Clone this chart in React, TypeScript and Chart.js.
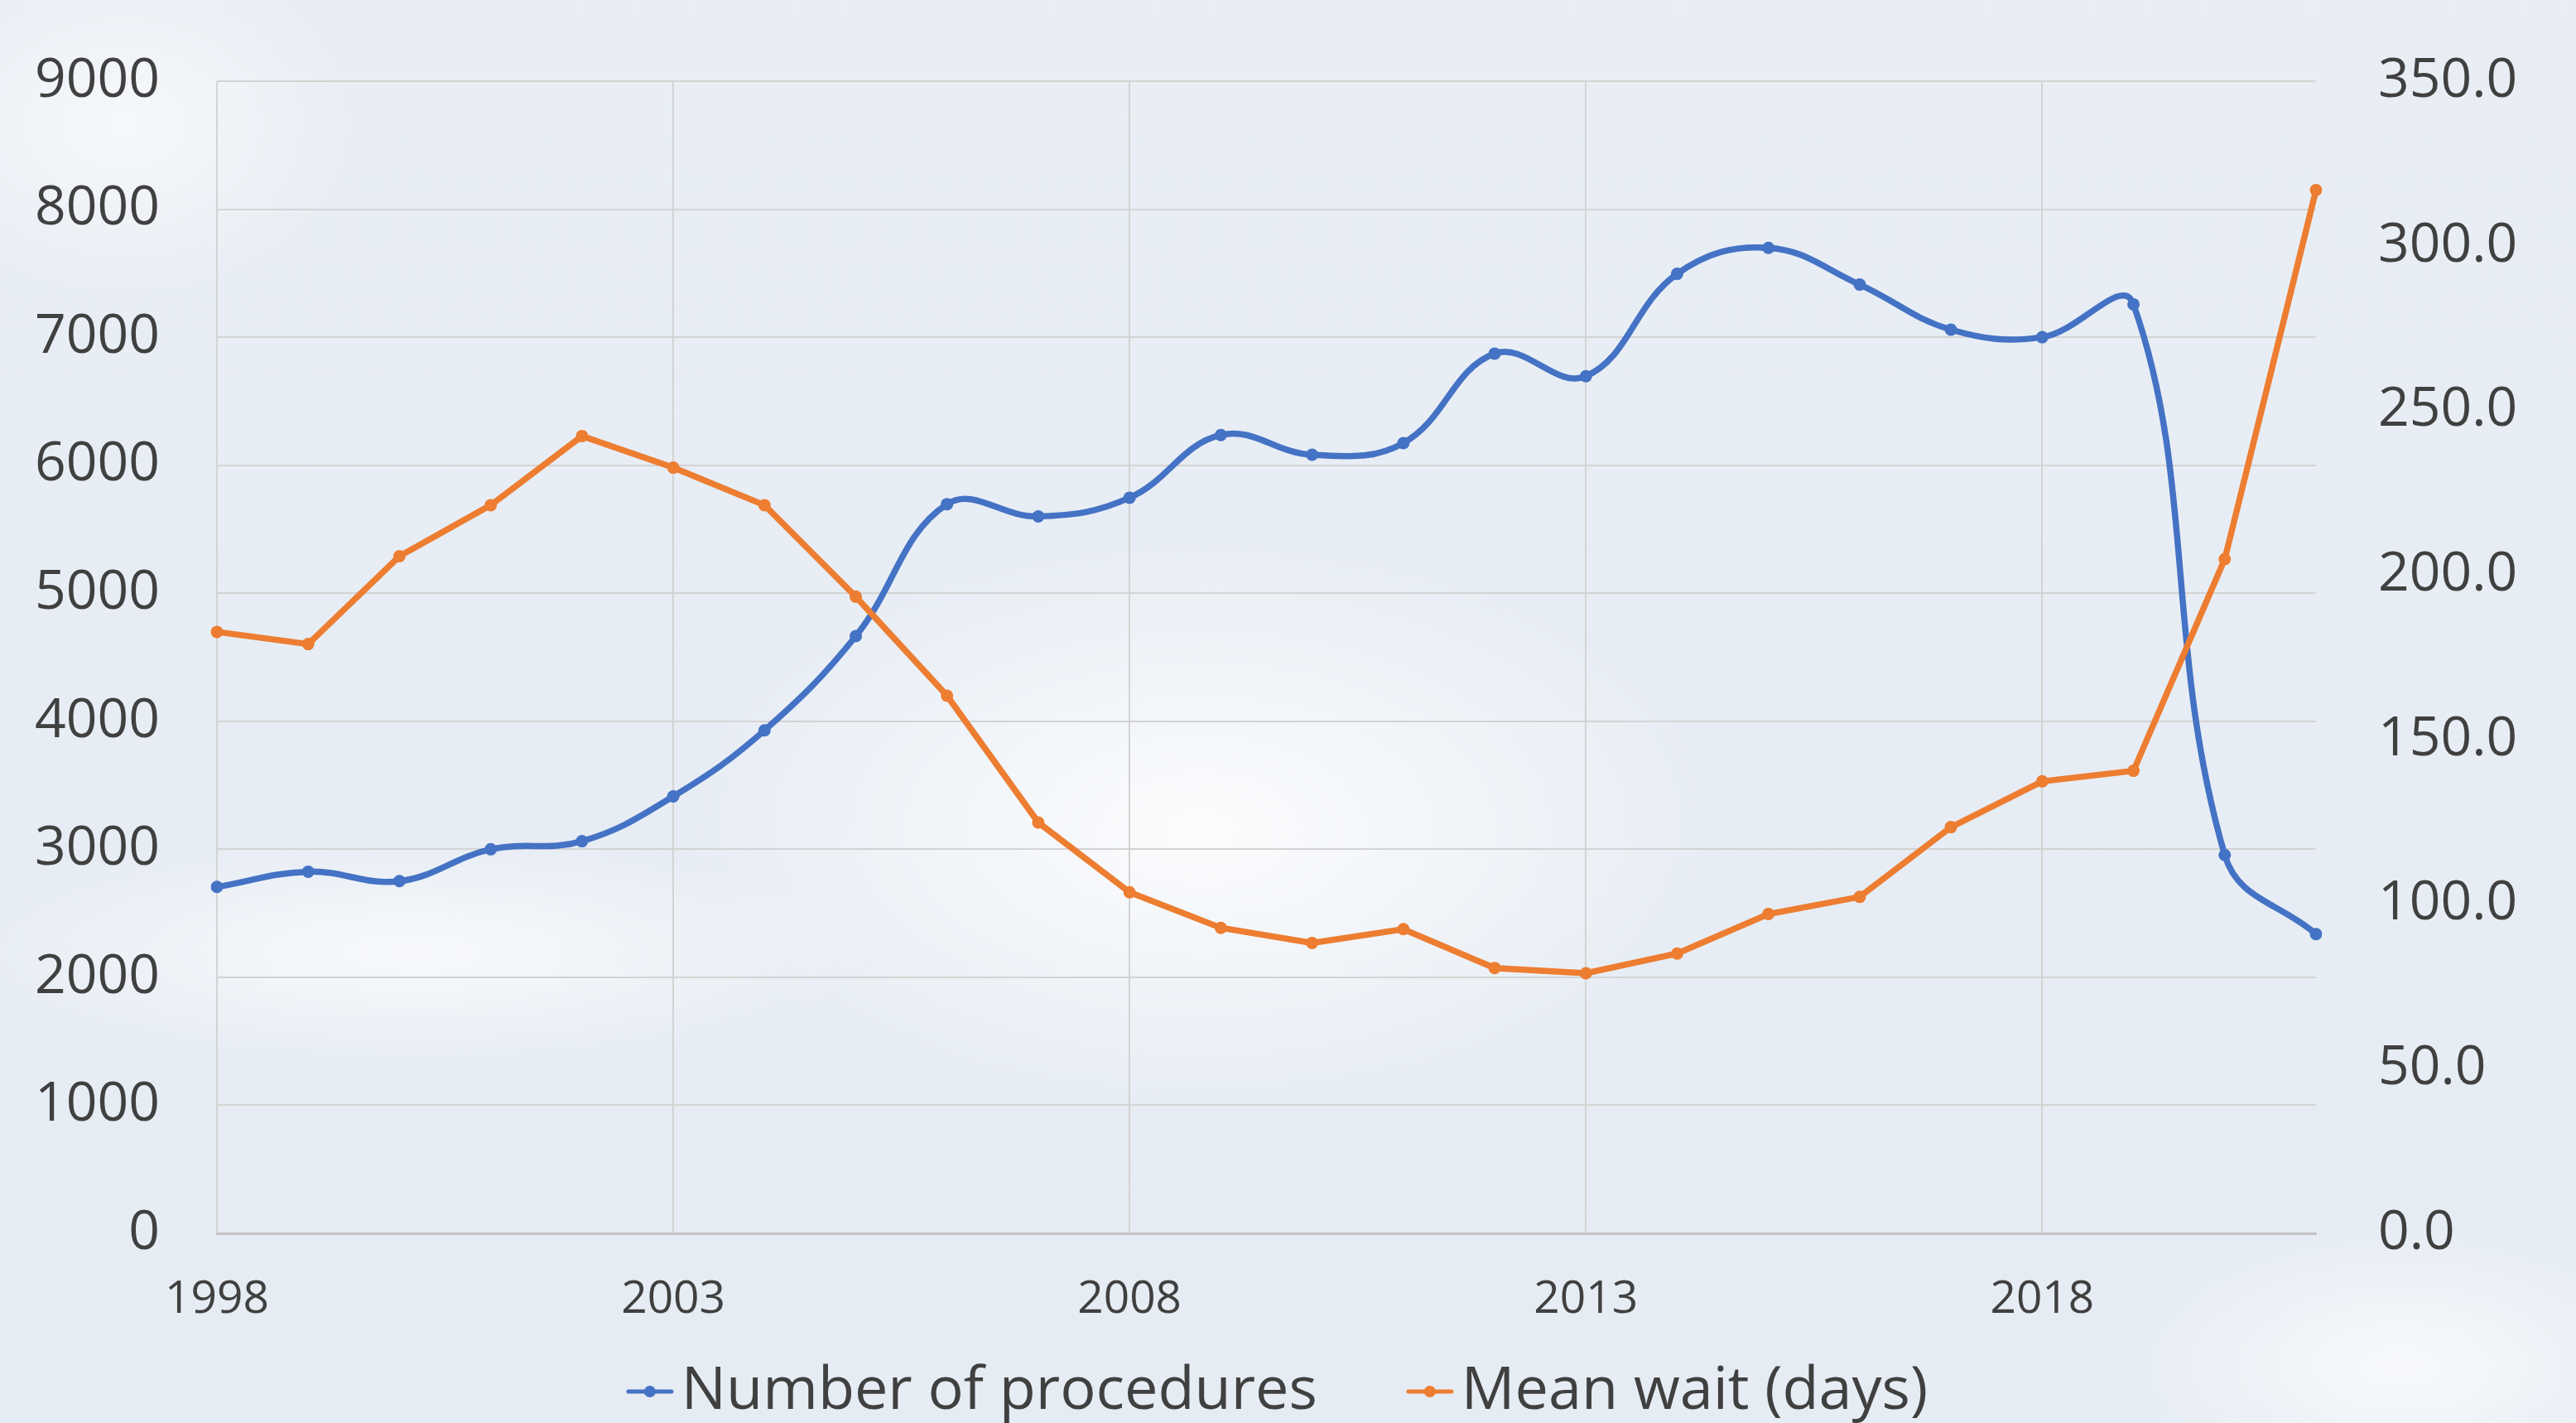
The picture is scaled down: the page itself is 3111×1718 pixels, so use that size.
import React, { useEffect, useRef } from "react";
import { Chart, registerables } from "chart.js";

Chart.register(...registerables);

// ---- Data ----
const years = [
  "1998", "1999", "2000", "2001", "2002", "2003", "2004", "2005",
  "2006", "2007", "2008", "2009", "2010", "2011", "2012", "2013",
  "2014", "2015", "2016", "2017", "2018", "2019", "2020", "2021",
];
const procedures = [
  2706, 2825, 2751, 3000, 3063, 3413, 3929, 4665,
  5696, 5600, 5746, 6236, 6082, 6173, 6872, 6695,
  7495, 7698, 7411, 7059, 7000, 7257, 2955, 2337,
];
const meanWait = [
  182.7, 179.0, 205.7, 221.2, 242.2, 232.6, 221.2, 193.4,
  163.3, 124.8, 103.6, 92.8, 88.2, 92.4, 80.6, 79.0,
  85.0, 97.0, 102.2, 123.4, 137.3, 140.5, 204.8, 316.9,
];
const seriesNames = ["Number of procedures", "Mean wait (days)"];
const leftAxis = { min: 0, max: 9000, step: 1000 };
const rightAxis = { min: 0, max: 350, step: 50 };
const labelEvery = 5;

const BLUE = "#4472C4";
const ORANGE = "#ED7D31";
const TEXT = "#404040";
const GRID = "#d3d3d3";
const FONT = "'Open Sans', 'Noto Sans', sans-serif";

const W = 3111;
const H = 1726;
const PLOT_RIGHT = 2797;
const PLOT_LEFT = 262;
const PLOT_TOP = 98;
const PLOT_BOTTOM = 1489;
const LEGEND_FONT = 72;
const LEGEND_PAD = 10;
const LEGEND_BOX = 128;
const LEGEND_SHIFT = -62;

function makeMarker(color: string): HTMLCanvasElement {
  const c = document.createElement("canvas");
  c.width = 182;
  c.height = 24;
  const g = c.getContext("2d")!;
  g.strokeStyle = color;
  g.lineWidth = 5;
  g.lineCap = "round";
  g.beginPath();
  g.moveTo(127, 12);
  g.lineTo(179, 12);
  g.stroke();
  g.fillStyle = color;
  g.beginPath();
  g.arc(153, 12, 7, 0, Math.PI * 2);
  g.fill();
  return c;
}

const legendShiftPlugin = {
  id: "legendShift",
  afterLayout(chart: any) {
    const lg = chart.legend;
    if (lg) {
      lg.left += LEGEND_SHIFT;
      lg.right += LEGEND_SHIFT;
    }
  },
};

export default function App() {
  const ref = useRef<HTMLCanvasElement | null>(null);

  useEffect(() => {
    if (!ref.current) return;
    const markers = [makeMarker(BLUE), makeMarker(ORANGE)];
    const legendHeight = LEGEND_FONT + LEGEND_PAD + 10;
    const chart = new Chart(ref.current, {
      type: "line",
      data: {
        labels: years,
        datasets: [
          {
            label: seriesNames[0],
            data: procedures,
            yAxisID: "y",
            borderColor: BLUE,
            backgroundColor: BLUE,
            borderWidth: 7.5,
            pointRadius: 7.5,
            pointBorderWidth: 0,
            pointBackgroundColor: BLUE,
            tension: 0.4,
            order: 1,
          },
          {
            label: seriesNames[1],
            data: meanWait,
            yAxisID: "y1",
            borderColor: ORANGE,
            backgroundColor: ORANGE,
            borderWidth: 7.5,
            pointRadius: 7.5,
            pointBorderWidth: 0,
            pointBackgroundColor: ORANGE,
            tension: 0,
            order: 0,
          },
        ],
      },
      plugins: [legendShiftPlugin],
      options: {
        responsive: false,
        animation: false,
        devicePixelRatio: 1,
        layout: { padding: { top: PLOT_TOP, left: 0, right: 0, bottom: 0 } },
        plugins: {
          tooltip: { enabled: false },
          title: { display: false },
          legend: {
            display: true,
            position: "bottom",
            labels: {
              usePointStyle: true,
              pointStyleWidth: LEGEND_BOX,
              boxHeight: LEGEND_FONT,
              padding: LEGEND_PAD,
              color: TEXT,
              font: { family: FONT, size: LEGEND_FONT },
              generateLabels: (c: any) => {
                const items = (Chart as any).defaults.plugins.legend.labels.generateLabels(c);
                items.sort((a: any, b: any) => a.datasetIndex - b.datasetIndex);
                return items.map((it: any) => ({ ...it, pointStyle: markers[it.datasetIndex] }));
              },
            },
          },
        },
        scales: {
          x: {
            type: "category",
            offset: false,
            afterFit: (s: any) => {
              s.height = H - legendHeight - PLOT_BOTTOM;
            },
            grid: {
              display: true,
              drawTicks: false,
              offset: false,
              lineWidth: 2,
              color: (ctx: any) => (ctx.index % labelEvery === 0 ? GRID : "rgba(0,0,0,0)"),
            },
            border: { display: true, color: "#c3c3c3", width: 3 },
            ticks: {
              autoSkip: false,
              maxRotation: 0,
              minRotation: 0,
              padding: 47,
              color: TEXT,
              font: { family: FONT, size: 55 },
              callback: (_v: any, i: number) => (i % labelEvery === 0 ? years[i] : ""),
            },
          },
          y: {
            type: "linear",
            position: "left",
            min: leftAxis.min,
            max: leftAxis.max,
            afterFit: (s: any) => {
              s.width = PLOT_LEFT;
              s.paddingTop = 0;
              s.paddingBottom = 0;
            },
            grid: { display: true, drawTicks: false, lineWidth: 2, color: GRID },
            border: { display: false },
            ticks: {
              stepSize: leftAxis.step,
              padding: 69,
              color: TEXT,
              font: { family: FONT, size: 66 },
              callback: (v: any) => String(v),
            },
          },
          y1: {
            type: "linear",
            position: "right",
            min: rightAxis.min,
            max: rightAxis.max,
            afterFit: (s: any) => {
              s.width = W - PLOT_RIGHT;
              s.paddingTop = 0;
              s.paddingBottom = 0;
            },
            grid: { display: false, drawTicks: false },
            border: { display: false },
            ticks: {
              stepSize: rightAxis.step,
              padding: 75,
              color: TEXT,
              font: { family: FONT, size: 66 },
              callback: (v: any) => Number(v).toFixed(1),
            },
          },
        },
      },
    } as any);
    return () => chart.destroy();
  }, []);

  const bg = [
    "radial-gradient(ellipse 900px 500px at 1450px 1000px, rgba(255,255,255,0.85), rgba(255,255,255,0) 70%)",
    "radial-gradient(ellipse 800px 200px at 500px 1150px, rgba(255,255,255,0.7), rgba(255,255,255,0) 70%)",
    "radial-gradient(ellipse 500px 250px at 2900px 1650px, rgba(255,255,255,0.7), rgba(255,255,255,0) 70%)",
    "radial-gradient(ellipse 400px 300px at 150px 150px, rgba(255,255,255,0.6), rgba(255,255,255,0) 70%)",
    "linear-gradient(180deg, #e9eef5 0%, #e6ecf4 100%)",
  ].join(", ");

  return (
    <div
      style={{
        position: "fixed",
        left: 0,
        top: 0,
        width: W,
        height: 1718,
        overflow: "hidden",
        background: bg,
      }}
    >
      <canvas ref={ref} width={W} height={H} style={{ width: W, height: H, display: "block" }} />
    </div>
  );
}
